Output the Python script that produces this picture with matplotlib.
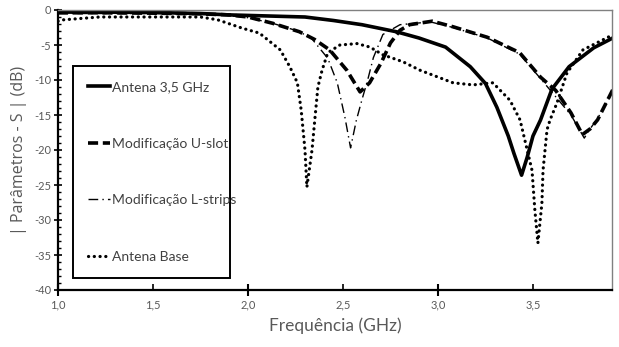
import matplotlib
matplotlib.use("Agg")
import matplotlib.pyplot as plt
from matplotlib.ticker import MultipleLocator

# Frequência (GHz) / |S11| (dB)
f_antena35 = [1.00, 1.25, 1.50, 1.75, 1.90, 2.10, 2.30, 2.45, 2.60, 2.78, 2.90,
              3.04, 3.17, 3.25, 3.31, 3.37, 3.40, 3.44, 3.47, 3.50, 3.54, 3.60,
              3.69, 3.82, 3.92]
s_antena35 = [-0.3, -0.3, -0.35, -0.5, -0.7, -0.85, -1.0, -1.5, -2.1, -3.1, -4.0,
              -5.3, -8.1, -10.5, -13.9, -18.0, -20.5, -23.6, -21.0, -18.0, -15.7,
              -11.3, -8.1, -5.4, -4.0]

f_uslot = [1.00, 1.25, 1.50, 1.75, 1.90, 2.00, 2.13, 2.27, 2.35, 2.43, 2.52,
           2.59, 2.64, 2.70, 2.75, 2.80, 2.85, 2.97, 3.08, 3.26, 3.43, 3.54,
           3.62, 3.70, 3.76, 3.80, 3.84, 3.92]
s_uslot = [-0.4, -0.4, -0.45, -0.55, -0.7, -1.0, -1.9, -3.1, -4.2, -5.7, -8.6,
           -11.7, -10.4, -7.6, -4.7, -2.9, -2.1, -1.6, -2.4, -3.9, -6.1, -9.6,
           -11.5, -14.7, -17.8, -17.0, -15.7, -11.4]

f_lstrips = [1.00, 1.25, 1.50, 1.75, 1.90, 2.00, 2.13, 2.25, 2.33, 2.42, 2.47,
             2.51, 2.54, 2.57, 2.60, 2.63, 2.66, 2.71, 2.80, 2.96, 3.08, 3.26,
             3.43, 3.54, 3.70, 3.77, 3.80, 3.84, 3.92]
s_lstrips = [-0.5, -0.5, -0.5, -0.6, -0.8, -1.1, -1.9, -2.9, -3.9, -6.9, -10.4,
             -15.3, -19.7, -15.8, -12.8, -10.0, -6.8, -3.5, -2.1, -1.7, -2.5, -4.0,
             -6.3, -9.8, -15.0, -18.3, -17.0, -15.5, -11.6]

f_base = [1.00, 1.03, 1.22, 1.50, 1.75, 1.84, 1.97, 2.06, 2.17, 2.22, 2.26,
          2.28, 2.30, 2.31, 2.337, 2.353, 2.368, 2.39, 2.42, 2.484, 2.574, 2.642,
          2.71, 2.816, 2.905, 3.079, 3.184, 3.289, 3.379, 3.432, 3.495, 3.51,
          3.526, 3.547, 3.553, 3.574, 3.59, 3.626, 3.679, 3.763, 3.916]
s_base = [-1.6, -1.4, -1.0, -1.0, -1.0, -1.4, -2.6, -3.3, -5.7, -8.1, -10.4,
          -14.3, -20.0, -25.3, -20.0, -15.3, -11.0, -8.6, -6.1, -5.0, -4.8, -5.3,
          -6.4, -7.4, -8.6, -10.4, -10.7, -10.4, -12.9, -15.7, -22.9, -28.6,
          -33.3, -27.6, -22.9, -17.1, -15.7, -13.3, -9.0, -5.7, -3.6]

labels = ["Antena 3,5 GHz", "Modificação U-slot", "Modificação L-strips", "Antena Base"]

GRAY = "#595959"
NARROW = ["Lato", "DejaVu Sans"]

fig = plt.figure(figsize=(6.19, 3.47), dpi=100)
ax = fig.add_axes([58 / 619, 1 - 290 / 347, 554 / 619, 280 / 347])

ax.plot(f_antena35, s_antena35, color="black", lw=2.6, solid_joinstyle="round",
        label=labels[0])
ax.plot(f_uslot, s_uslot, color="black", lw=2.6, linestyle=(0, (2.8, 1.3)),
        label=labels[1])
ax.plot(f_lstrips, s_lstrips, color="black", lw=1.0, linestyle=(0, (7, 3, 1, 3)),
        label=labels[2])
ax.plot(f_base, s_base, color="black", lw=2.3, linestyle=(0, (0.05, 1.75)),
        dash_capstyle="round", label=labels[3])

ax.set_xlim(1.0, 3.916)
ax.set_ylim(-40, 0)

# eixo x: traços maiores nos inteiros, menores nos meios
ax.set_xticks([1.0, 2.0, 3.0], labels=["1,0", "2,0", "3,0"])
ax.set_xticks([1.5, 2.5, 3.5], labels=["1,5", "2,5", "3,5"], minor=True)
ax.tick_params(axis="x", which="major", direction="inout", length=9, width=1.5,
               colors="black", labelcolor=GRAY, labelsize=8, pad=2)
ax.tick_params(axis="x", which="minor", direction="in", length=4, width=1.2,
               colors="black", labelcolor=GRAY, labelsize=8, pad=6.5)

ax.yaxis.set_major_locator(MultipleLocator(5))
ax.yaxis.set_minor_locator(MultipleLocator(1))
ax.set_yticks(range(-40, 1, 5), labels=[str(v) for v in range(-40, 1, 5)])
ax.tick_params(axis="y", which="major", direction="inout", length=6, width=1.2,
               colors="black", labelcolor=GRAY, labelsize=8, pad=2)
ax.tick_params(axis="y", which="minor", direction="in", length=2.5, width=1.0,
               colors="black")

for lab in ax.get_xticklabels(which="both") + ax.get_yticklabels():
    lab.set_family(NARROW)

ax.spines["left"].set_linewidth(1.6)
ax.spines["bottom"].set_linewidth(1.6)
for side in ("top", "right"):
    ax.spines[side].set_color("#808080")
    ax.spines[side].set_linewidth(1.0)

ax.set_xlabel("Frequência (GHz)", color=GRAY, fontsize=12.5, family=NARROW, labelpad=5)
ax.set_ylabel("| Parâmetros - S | (dB)", color=GRAY, fontsize=11.5,
              family=["Open Sans", "DejaVu Sans"], labelpad=5)

leg = ax.legend(loc="lower left", bbox_to_anchor=(0.027, 0.043, 0.283, 0.793),
                mode="expand", fancybox=False, framealpha=1, edgecolor="black",
                prop={"family": NARROW, "size": 10}, labelspacing=3.2,
                handlelength=1.6, handletextpad=0.1, borderpad=1.1,
                borderaxespad=0)
leg.get_frame().set_linewidth(1.4)
for t in leg.get_texts():
    t.set_color("#404040")

fig.savefig("out.png", dpi=100)
